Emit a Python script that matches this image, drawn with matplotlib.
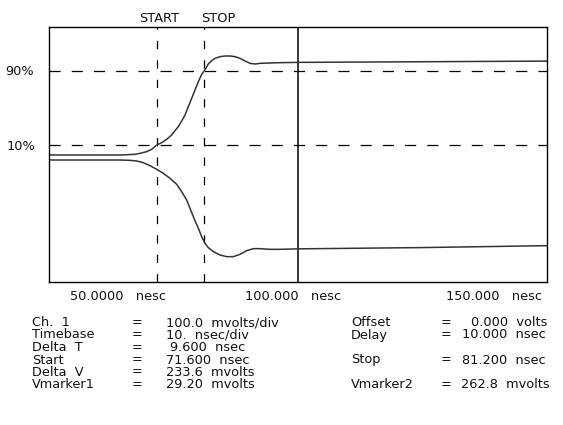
import matplotlib
matplotlib.use("Agg")
import matplotlib.pyplot as plt

# rising edge, time in ns and level in mV
rise_t = [50.0, 64.26, 67.27, 68.27, 69.61, 70.62, 71.6, 72.62, 73.63, 74.63,
          75.30, 75.97, 76.64, 77.31, 77.98, 78.65, 79.32, 79.99, 80.66, 81.2,
          81.99, 82.66, 83.33, 84.34, 85.34, 86.35, 87.35, 88.35, 89.36, 90.36,
          91.37, 92.37, 94.38, 96.39, 100.0, 125.0, 150.0]
rise_v = [-1.6, -1.6, 0.5, 3.7, 8.9, 16.2, 29.2, 37.1, 47.6, 61.2,
          74.8, 87.3, 105.1, 123.9, 150.1, 176.2, 202.4, 228.5, 251.5, 262.8,
          283.9, 294.4, 301.7, 306.9, 309.0, 309.0, 306.9, 301.7, 293.3, 286.0,
          283.9, 286.0, 287.1, 288.1, 289.0, 291.0, 293.0]

# falling edge, time in ns and level in mV
fall_t = [50.0, 64.26, 66.27, 67.6, 68.94, 70.28, 71.62, 72.96, 74.3, 75.64,
          76.64, 77.64, 78.31, 79.12, 79.99, 80.66, 81.33, 81.99, 83.0, 84.34,
          85.68, 87.01, 88.35, 89.69, 91.03, 92.37, 94.38, 96.39, 100.0, 125.0,
          150.0]
fall_v = [-17.3, -17.3, -18.3, -20.4, -25.6, -35.0, -46.5, -59.0, -74.8, -93.6,
          -116.6, -142.7, -168.9, -200.3, -231.6, -257.8, -278.7, -292.2, -304.8,
          -315.3, -320.5, -320.5, -313.2, -301.7, -295.4, -295.4, -297.5, -297.5,
          -296.0, -292.0, -286.0]

start_ns = 71.6
stop_ns = 81.2
center_ns = 100.0
vmarker1 = 29.2
vmarker2 = 262.8

time_labels = ["50.0000   nesc", "100.000   nesc", "150.000   nesc"]

left_names = ["Ch.  1", "Timebase", "Delta  T", "Start", "Delta  V", "Vmarker1"]
left_values = ["100.0  mvolts/div", "10.  nsec/div", "9.600  nsec",
               "71.600  nsec", "233.6  mvolts", "29.20  mvolts"]
right_names = ["Offset", "Delay", None, "Stop", None, "Vmarker2"]
right_values = ["0.000  volts", "10.000  nsec", None,
                "81.200  nsec", None, "262.8  mvolts"]

W, H = 563, 425
plt.rcParams["font.family"] = ["DejaVu Sans"]
plt.rcParams["lines.scale_dashes"] = False

fig = plt.figure(figsize=(W / 100, H / 100), dpi=100)
ax = fig.add_axes([49 / W, 1 - 282 / H, 498 / W, 255 / H])
ax.set_xlim(50, 150)
ax.set_ylim(-400, 400)
ax.set_xticks([])
ax.set_yticks([])
for s in ax.spines.values():
    s.set_linewidth(1.0)
    s.set_color("black")

dash = (0, (8, 8))
ax.axhline(vmarker2, color="black", lw=0.9, ls=dash)
ax.axhline(vmarker1, color="black", lw=0.9, ls=dash)
ax.axvline(start_ns, color="black", lw=0.9, ls=(0, (6, 8)))
ax.axvline(stop_ns, color="black", lw=0.9, ls=(0, (6, 8)))
ax.axvline(center_ns, color="black", lw=1.1)

ax.plot(rise_t, rise_v, color="#333333", lw=1.1)
ax.plot(fall_t, fall_v, color="#333333", lw=1.1)


def px(x, y):
    return x / W, 1 - y / H


fs = 9.3
txt = dict(fontsize=fs, color="#111111", va="baseline")
fig.text(*px(159, 21.5), "START", ha="center", **txt)
fig.text(*px(218, 21.5), "STOP", ha="center", **txt)
fig.text(*px(5, 75), "90%", ha="left", **txt)
fig.text(*px(7, 149.5), "10%", ha="left", **txt)

tick_x = [70, 245, 446]
for x, lab in zip(tick_x, time_labels):
    fig.text(*px(x, 300.5), lab, ha="left", **txt)

row_y = [326, 338.5, 351, 363.5, 375.5, 388]
val_x = [166, 166, 170, 166, 166, 166]
for i, y in enumerate(row_y):
    fig.text(*px(32, y), left_names[i], ha="left", **txt)
    fig.text(*px(137, y), "=", ha="center", **txt)
    fig.text(*px(val_x[i], y), left_values[i], ha="left", **txt)

rval_x = [471, 462, None, 462, None, 461]
for i, y in enumerate(row_y):
    if right_names[i] is None:
        continue
    fig.text(*px(351, y), right_names[i], ha="left", **txt)
    fig.text(*px(446, y), "=", ha="center", **txt)
    fig.text(*px(rval_x[i], y), right_values[i], ha="left", **txt)

fig.savefig("out.png", dpi=100)
